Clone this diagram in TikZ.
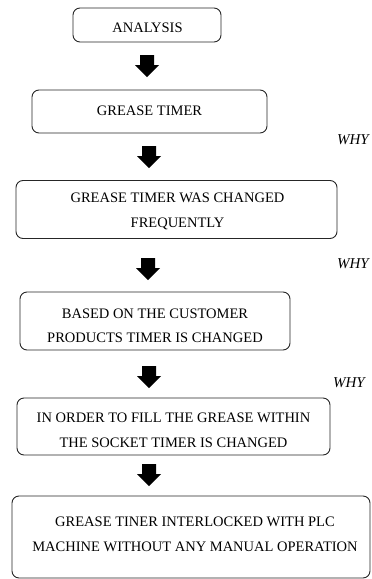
\documentclass[tikz,border=0pt]{standalone}
\usepackage{fontspec}
\setmainfont{Liberation Serif}
\begin{document}
\begin{tikzpicture}[x=1pt,y=-1pt,
  box/.style={draw=black!85, line width=0.9pt, rounded corners=7pt, inner sep=0pt},
  txt/.style={align=center, inner sep=0pt, font=\fontsize{14.5}{24.5}\selectfont},
  why/.style={font=\fontsize{15}{18}\itshape, inner sep=0pt},
  blockarrow/.pic={\fill[black] (-7,0) -- (7,0) -- (7,10) -- (12,10) -- (0,22) -- (-12,10) -- (-7,10) -- cycle;}
]
\useasboundingbox (0,0) rectangle (372,579);
\node[box, minimum width=148pt, minimum height=34pt] (b1) at (147,25) {};
\node[box, minimum width=235pt, minimum height=43pt] (b2) at (149.5,111.5) {};
\node[box, minimum width=321pt, minimum height=58pt] (b3) at (176.5,209.5) {};
\node[box, minimum width=270pt, minimum height=58pt] (b4) at (155,321) {};
\node[box, minimum width=313pt, minimum height=57pt] (b5) at (173.5,426.5) {};
\node[box, minimum width=358pt, minimum height=82pt] (b6) at (191,537) {};
\node[txt] (t1) at (147.5,27.5) {ANALYSIS};
\node[txt] (t2) at (149.5,111) {GREASE TIMER};
\node[txt] (t3) at (177.5,211.5) {GREASE TIMER WAS CHANGED\\FREQUENTLY};
\node[txt] (t4) at (155,326) {BASED ON THE CUSTOMER\\PRODUCTS TIMER IS CHANGED};
\node[txt] (t5) at (173.5,430.5) {IN ORDER TO FILL THE GREASE WITHIN\\THE SOCKET TIMER IS CHANGED};
\node[txt] (t6) at (195,534.3) {GREASE TINER INTERLOCKED WITH PLC\\MACHINE WITHOUT ANY MANUAL OPERATION};
\pic (a1) at (147,55) {blockarrow};
\pic (a2) at (149,146) {blockarrow};
\pic (a3) at (148,258) {blockarrow};
\pic (a4) at (149,366) {blockarrow};
\pic (a5) at (149,464) {blockarrow};
\node[why] (w1) at (353,140) {WHY};
\node[why] (w2) at (353,264) {WHY};
\node[why] (w3) at (349,383) {WHY};
\end{tikzpicture}
\end{document}
